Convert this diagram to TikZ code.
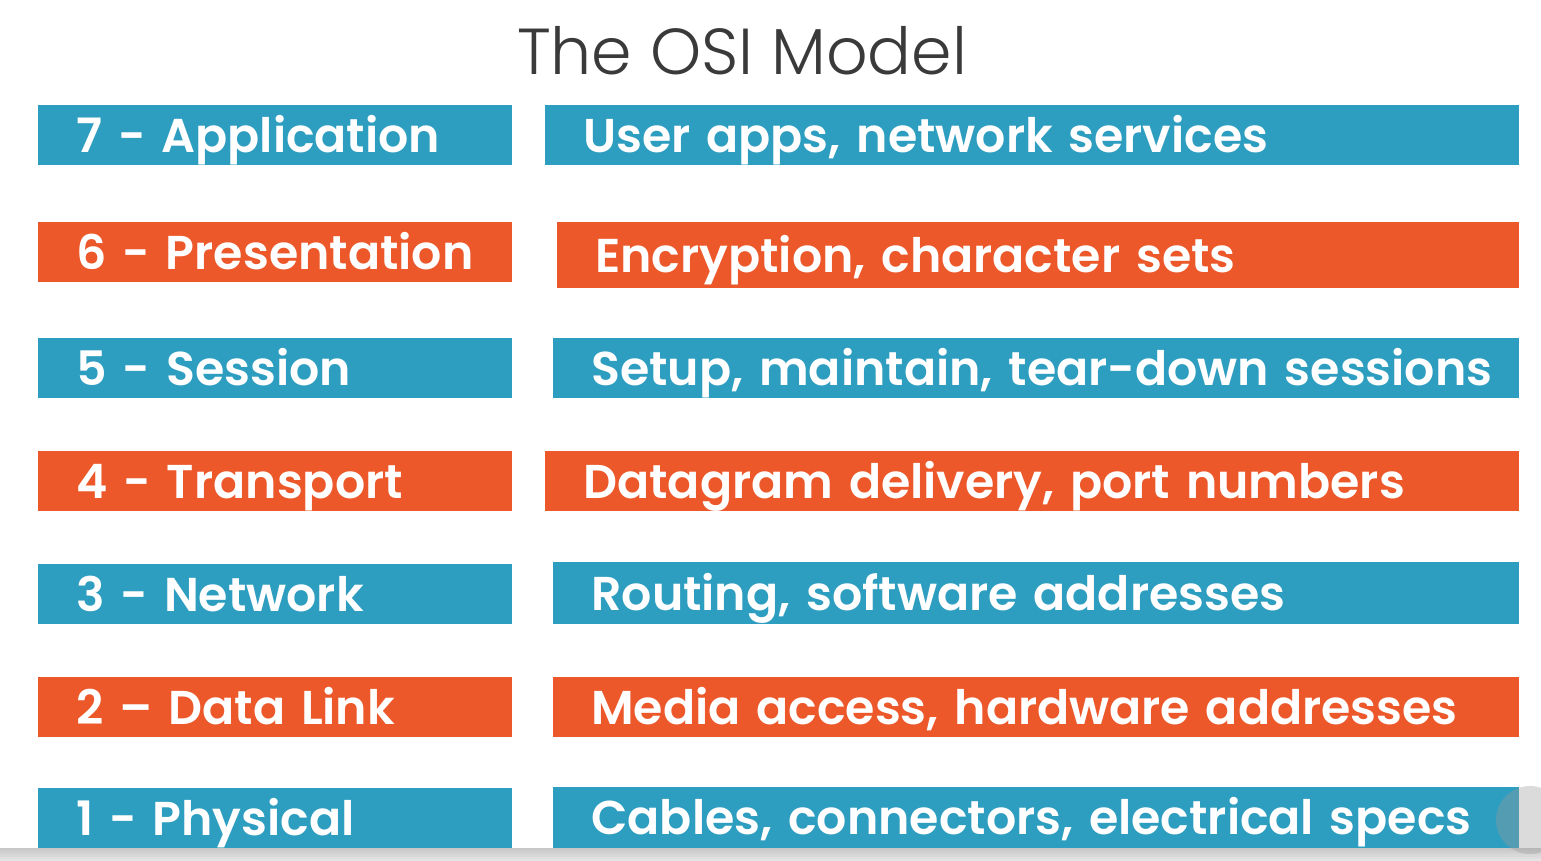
\documentclass[tikz,border=0pt]{standalone}
\usepackage{fontspec}
\setmainfont{Poppins}[UprightFont=* SemiBold, WordSpace=0.8]
\newfontfamily\titlefont{Poppins}[UprightFont=* Light]
\usetikzlibrary{positioning}
\definecolor{osiblue}{RGB}{46,158,192}
\definecolor{osiorange}{RGB}{236,88,42}
\definecolor{titlegrey}{RGB}{58,58,58}
\tikzset{
    layer/.style={rectangle, anchor=north west, inner xsep=0pt, inner ysep=0pt, align=left, text=white, font=\fontsize{27}{27}\selectfont, text height=0.68cm, text depth=0pt, minimum height=1.2cm, execute at begin node={\hspace*{0.76cm}}},
    leftbox/.style={layer, text width=9.48cm},
    widebox/.style={layer, text width=19.48cm},
    rightbox/.style={layer, text width=19.32cm},
    title/.style={font=\titlefont\fontsize{37}{37}\selectfont, text=titlegrey, inner sep=0pt, text height=0.9cm, text depth=0pt}
}
\begin{document}
\begin{tikzpicture}[x=0.02cm, y=-0.02cm]
    \useasboundingbox (0,0) rectangle (1541,860);
    \fill[white] (0,0) rectangle (1541,860);
    % Title
    \node (title) [title] at (742,52) {The OSI Model};
    % Layers
    \node (application) [leftbox, fill=osiblue] at (38,105) {7 - Application};
    \node (presentation) [leftbox, fill=osiorange] at (38,222) {6 - Presentation};
    \node (session) [leftbox, fill=osiblue] at (38,338) {5 - Session};
    \node (transport) [leftbox, fill=osiorange] at (38,451) {4 - Transport};
    \node (network) [leftbox, fill=osiblue] at (38,564) {3 - Network};
    \node (datalink) [leftbox, fill=osiorange] at (38,677) {2 -- Data Link};
    \node (physical) [leftbox, fill=osiblue] at (38,788) {1 - Physical};
    % Descriptions
    \node (appdesc) [widebox, fill=osiblue] at (545,105) {User apps, network services};
    \node (presdesc) [layer, text width=19.24cm, minimum height=1.32cm, fill=osiorange] at (557,222) {Encryption, character sets};
    \node (sessdesc) [rightbox, fill=osiblue] at (553,338) {Setup, maintain, tear-down sessions};
    \node (transdesc) [widebox, fill=osiorange] at (545,451) {Datagram delivery, port numbers};
    \node (netdesc) [rightbox, fill=osiblue, minimum height=1.24cm] at (553,562) {Routing, software addresses};
    \node (linkdesc) [rightbox, fill=osiorange] at (553,677) {Media access, hardware addresses};
    \node (physdesc) [rightbox, fill=osiblue, minimum height=1.22cm] at (553,787) {Cables, connectors, electrical specs};
    % Player bar
    \shade[top color=black!22, bottom color=black!10] (0,848) rectangle (1541,860);
    \fill[black!40, opacity=0.35] (1530,820) circle (34);
\end{tikzpicture}
\end{document}
